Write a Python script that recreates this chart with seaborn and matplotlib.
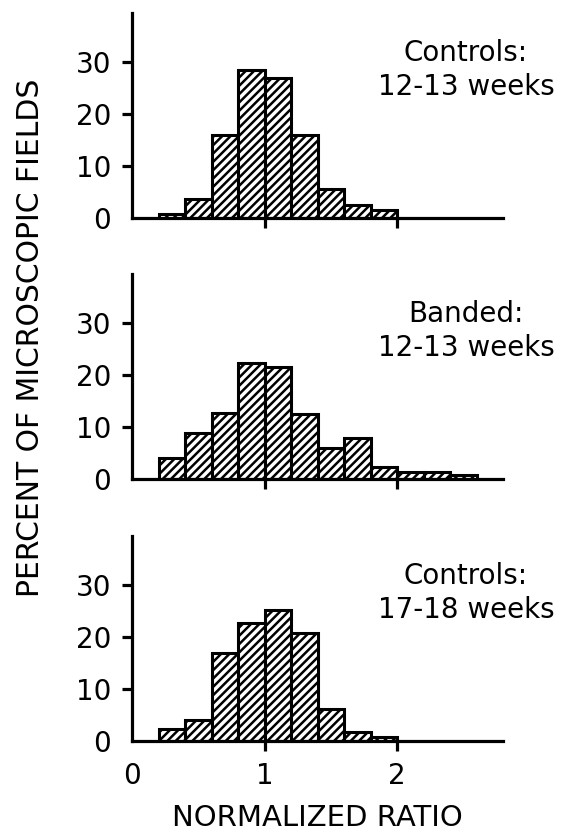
import numpy as np
import pandas as pd
from matplotlib import pyplot as plt
import seaborn as sns

# Histogram data (percent of fields per 0.2-wide bin)
bin_width = 0.2
controls_12_left = [0.2, 0.4, 0.6, 0.8, 1.0, 1.2, 1.4, 1.6, 1.8]
controls_12_pct = [0.8, 3.6, 16.0, 28.5, 27.0, 16.0, 5.6, 2.5, 1.6]

banded_12_left = [0.2, 0.4, 0.6, 0.8, 1.0, 1.2, 1.4, 1.6, 1.8, 2.0, 2.2, 2.4]
banded_12_pct = [4.0, 8.8, 12.7, 22.4, 21.5, 12.5, 5.9, 7.9, 2.3, 1.4, 1.4, 0.8]

controls_17_left = [0.2, 0.4, 0.6, 0.8, 1.0, 1.2, 1.4, 1.6, 1.8]
controls_17_pct = [2.4, 4.1, 16.9, 22.7, 25.3, 20.9, 6.1, 1.8, 0.7]

panel_labels = ['Controls:\n12-13 weeks', 'Banded:\n12-13 weeks', 'Controls:\n17-18 weeks']
y_ticks = [0, 10, 20, 30]
x_ticks = [0, 1, 2]

sns.set_style('ticks')
plt.rcParams['font.family'] = ['DejaVu Sans']
plt.rcParams['hatch.linewidth'] = 1.8
plt.rcParams['axes.linewidth'] = 2.3
for key in ['text.color', 'axes.labelcolor', 'xtick.color', 'ytick.color', 'axes.edgecolor']:
    plt.rcParams[key] = 'black'

fig = plt.figure(figsize=(5.61, 8.34), dpi=100)
bottoms = [616 / 834, 355 / 834, 93 / 834]
height = 205 / 834
left, width = 132 / 561, 371 / 561

panels = [(controls_12_left, controls_12_pct),
          (banded_12_left, banded_12_pct),
          (controls_17_left, controls_17_pct)]

for i, ((lefts, pct), label) in enumerate(zip(panels, panel_labels)):
    ax = fig.add_axes([left, bottoms[i], width, height])
    lefts = np.array(lefts)
    df = pd.DataFrame({'ratio': lefts + bin_width / 2, 'pct': pct})
    edges = [round(v, 2) for v in np.append(lefts, lefts[-1] + bin_width)]
    sns.histplot(data=df, x='ratio', weights='pct', bins=edges, ax=ax,
                 color='white', edgecolor='black', linewidth=2.2,
                 hatch='////', alpha=1)
    ax.set_xlim(0, 2.8)
    ax.set_ylim(0, 39.5)
    ax.set_yticks(y_ticks)
    ax.set_xticks(x_ticks)
    ax.set_xlabel('')
    ax.set_ylabel('')
    ax.tick_params(axis='both', length=7, width=2.3, labelsize=20, pad=8)
    # no tick marks at the corner, labels only
    ax.yaxis.get_major_ticks()[0].tick1line.set_visible(False)
    ax.xaxis.get_major_ticks()[0].tick1line.set_visible(False)
    if i < 2:
        ax.set_xticklabels([])
    sns.despine(ax=ax)
    ax.text(2.52, 28.5, label, ha='center', va='center', multialignment='center',
            fontsize=20, linespacing=1.25)
    if i == 2:
        ax.set_xlabel('NORMALIZED RATIO', fontsize=21, labelpad=10)

fig.text(0.054, 0.595, 'PERCENT OF MICROSCOPIC FIELDS', rotation=90,
         ha='center', va='center', fontsize=21.5)

fig.savefig('out.png', dpi=100)
